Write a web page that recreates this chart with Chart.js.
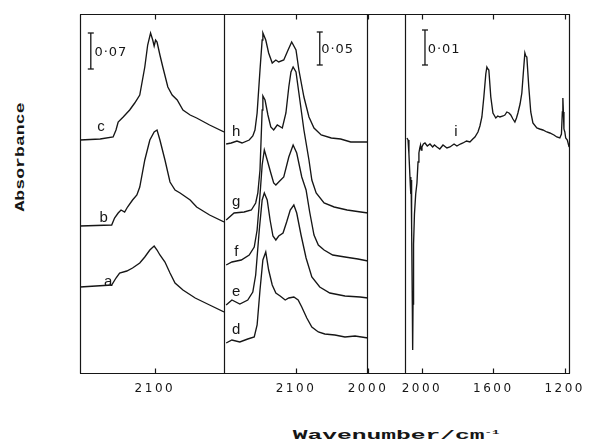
<!DOCTYPE html>
<html>
<head>
<meta charset="utf-8">
<script src="https://cdn.jsdelivr.net/npm/chart.js@4.4.1/dist/chart.umd.min.js"></script>
<style>
  html, body { margin: 0; padding: 0; background: #fff; }
  body { width: 592px; height: 448px; position: relative; overflow: hidden; }
  canvas { position: absolute; top: 0; }
  #frame { position: absolute; left: 80px; top: 14px; width: 490px; height: 358px;
           border-top: 1px solid #161616; border-bottom: 1px solid #161616; }
  .title { position: absolute; white-space: nowrap; color: #161616;
           font: bold 13px "Liberation Mono", monospace; }
  #ytitle { left: 20px; top: 157px; transform: translate(-50%, -50%) rotate(-90deg) scaleX(1.4); }
  #xtitle { left: 396px; top: 436px; font-size: 12px; transform: translate(-50%, -50%) scaleX(2.05); }
  #xtitle sup { font-size: 6px; }
</style>
</head>
<body>
<div id="frame"></div>
<canvas id="p1" width="184" height="410" style="left:60px"></canvas>
<canvas id="p2" width="184" height="410" style="left:204px"></canvas>
<canvas id="p3" width="207" height="410" style="left:385px"></canvas>
<div class="title" id="ytitle">Absorbance</div>
<div class="title" id="xtitle">Wavenumber/cm<sup>-1</sup></div>
<script>
const INK = "#161616";

// tick labels (wavenumber / cm-1)
const ticks1 = [2100];
const ticks2 = [2100, 2000];
const ticks3 = [2000, 1600, 1200];

// spectra: [wavenumber, offset absorbance (arb. units)]
const specA = [[2204,87],[2160,89],[2154,96],[2149,101],[2139,103],[2131,106],[2121,111],[2114,117],[2107,124],[2101,128],[2097,124],[2093,119],[2086,112],[2079,101],[2072,91],[2061,84],[2044,76],[2024,69],[2004,62]];
const specB = [[2204,148],[2160,149],[2156,156],[2151,161],[2147,164],[2142,162],[2138,167],[2131,174],[2125,179],[2121,187],[2114,214],[2107,234],[2101,242],[2097,244],[2093,234],[2086,214],[2079,192],[2072,184],[2065,181],[2051,174],[2042,167],[2024,159],[2004,152]];
const specC = [[2204,234],[2176,235],[2158,237],[2154,244],[2151,252],[2144,257],[2135,264],[2128,271],[2121,279],[2114,307],[2110,329],[2106,341],[2103,334],[2101,328],[2099,334],[2097,332],[2093,319],[2089,307],[2082,287],[2076,279],[2069,274],[2061,264],[2051,259],[2042,256],[2024,249],[2004,242]];

const specD = [[2197,31],[2189,34],[2178,32],[2167,35],[2158,37],[2154,49],[2150,84],[2146,114],[2142,122],[2138,104],[2133,89],[2128,81],[2122,78],[2115,74],[2110,76],[2103,77],[2097,74],[2092,67],[2085,56],[2078,47],[2069,42],[2060,40],[2046,39],[2032,37],[2018,38],[2000,36]];
const specE = [[2197,69],[2189,74],[2178,70],[2167,74],[2160,82],[2156,99],[2151,144],[2147,174],[2144,181],[2140,174],[2136,154],[2132,138],[2128,134],[2124,138],[2118,141],[2113,152],[2108,164],[2103,169],[2099,161],[2093,139],[2086,116],[2078,97],[2067,87],[2053,81],[2032,78],[2011,77],[2000,76]];
const specF = [[2197,109],[2189,112],[2176,114],[2165,119],[2158,127],[2154,144],[2150,179],[2147,209],[2144,224],[2140,214],[2135,201],[2131,191],[2128,189],[2124,192],[2117,197],[2110,217],[2104,229],[2099,221],[2092,197],[2086,184],[2081,162],[2075,139],[2069,129],[2061,124],[2049,119],[2032,117],[2014,115],[2000,113]];
const specG = [[2197,154],[2186,161],[2172,162],[2162,164],[2156,171],[2153,181],[2150,204],[2147,264],[2146,278],[2143,274],[2139,259],[2135,247],[2131,244],[2126,249],[2119,246],[2114,261],[2110,287],[2107,302],[2104,307],[2100,302],[2096,281],[2089,244],[2082,214],[2078,194],[2072,181],[2061,171],[2047,167],[2029,164],[2010,162],[2000,161]];
const specH = [[2197,230],[2190,231],[2182,233],[2175,231],[2165,234],[2160,238],[2157,244],[2154,261],[2150,304],[2147,334],[2146,341],[2142,334],[2138,321],[2133,311],[2128,314],[2124,312],[2117,314],[2111,324],[2106,332],[2100,324],[2096,304],[2089,277],[2082,257],[2075,246],[2065,239],[2051,236],[2038,235],[2024,232],[2010,232],[2000,232]];

const specI = [[2084,236],[2078,234],[2073,220],[2068,200],[2065,188],[2063,197],[2062,180],[2061,194],[2059,176],[2057,150],[2054,70],[2052,24],[2050,70],[2047,130],[2042,160],[2035,180],[2028,191],[2022,212],[2017,221],[2012,226],[2008,229],[2004,224],[2000,227],[1992,230],[1983,231],[1970,228],[1955,230],[1940,227],[1930,229],[1916,227],[1900,225],[1882,229],[1860,226],[1843,227],[1820,230],[1804,228],[1785,230],[1770,231],[1750,233],[1731,232],[1715,235],[1703,237],[1686,242],[1675,248],[1664,257],[1653,277],[1642,300],[1636,307],[1630,305],[1625,304],[1614,277],[1602,261],[1586,256],[1575,258],[1563,257],[1545,258],[1535,259],[1524,262],[1512,261],[1502,259],[1490,255],[1479,252],[1470,256],[1462,261],[1450,270],[1440,281],[1430,305],[1423,321],[1418,318],[1412,317],[1401,287],[1390,262],[1378,251],[1356,246],[1340,245],[1322,244],[1300,242],[1283,241],[1260,239],[1244,237],[1227,236],[1218,240],[1213,262],[1210,276],[1207,262],[1204,245],[1199,242],[1194,236],[1185,234],[1175,227]];

// absorbance scale bars: [wavenumber, bottom, top]
const bar1 = [2189, 305, 341];
const bar2 = [2067, 309, 342];
const bar3 = [1983, 309, 344];

// curve letters: [text, wavenumber, value]
const tags1 = [["c", 2175, 247], ["b", 2171, 156], ["a", 2165, 92]];
const tags2 = [["h", 2183, 242], ["g", 2183, 172], ["f", 2183, 122], ["e", 2183, 82], ["d", 2183, 44]];
const tags3 = [["i", 1810, 242]];

// scale bar captions: [text, wavenumber, value]
const note1 = ["0\u00b707", 2184, 321];
const note2 = ["0\u00b705", 2065, 324];
const note3 = ["0\u00b701", 1968, 324];

function panelPlugin(cfg) {
  return {
    id: "panel",
    beforeDraw(chart) {
      chart.ctx.letterSpacing = "2.5px";
    },
    afterDraw(chart) {
      const { ctx, chartArea: a, scales: { x, y } } = chart;
      ctx.save();
      ctx.letterSpacing = "0px";
      ctx.strokeStyle = INK;
      ctx.lineWidth = 1.2;
      const L = a.left + 0.5, R = a.right - 0.5, T = a.top + 0.5, B = a.bottom - 0.5;
      ctx.beginPath();
      ctx.moveTo(L, T); ctx.lineTo(R, T);
      ctx.moveTo(L, B); ctx.lineTo(R, B);
      ctx.moveTo(L, T); ctx.lineTo(L, B);
      if (cfg.right) { ctx.moveTo(R, T); ctx.lineTo(R, B); }
      x.ticks.forEach((t) => {
        const px = Math.round(x.getPixelForValue(t.value)) + 0.5;
        ctx.moveTo(px, T); ctx.lineTo(px, T + 5);
        ctx.moveTo(px, B); ctx.lineTo(px, B - 5);
      });
      ctx.stroke();

      ctx.fillStyle = INK;
      ctx.textBaseline = "middle";
      ctx.font = '15px "Liberation Sans"';
      ctx.textAlign = "center";
      cfg.tags.forEach(([t, wn, v]) => ctx.fillText(t, x.getPixelForValue(wn), y.getPixelForValue(v)));

      ctx.font = '13px "DejaVu Sans"';
      ctx.letterSpacing = "1px";
      ctx.textAlign = "left";
      const [t, wn, v] = cfg.note;
      ctx.fillText(t, x.getPixelForValue(wn), y.getPixelForValue(v));
      ctx.restore();
    }
  };
}

function buildPanel(id, cfg) {
  const lines = cfg.spectra.map((s) => ({
    data: s.map(([wn, v]) => ({ x: wn, y: v })),
    borderColor: INK,
    borderWidth: 1.35,
    pointRadius: 0,
    tension: 0,
    fill: false
  }));
  const [bx, lo, hi] = cfg.bar;
  lines.push({
    data: [{ x: bx, y: lo }, { x: bx, y: hi }],
    borderColor: INK,
    borderWidth: 1.3,
    pointStyle: "line",
    pointRadius: 3,
    pointBorderColor: INK,
    pointBorderWidth: 1.3,
    fill: false
  });

  new Chart(document.getElementById(id), {
    type: "line",
    data: { datasets: lines },
    options: {
      responsive: false,
      animation: false,
      events: [],
      layout: { padding: { left: 20, right: cfg.padRight, top: 14, bottom: 0 } },
      plugins: { legend: { display: false }, tooltip: { enabled: false } },
      scales: {
        x: {
          type: "linear",
          min: cfg.min,
          max: cfg.max,
          reverse: true,
          grid: { display: false, drawTicks: false },
          border: { display: false },
          ticks: {
            color: INK,
            font: { family: "DejaVu Sans", size: 12 },
            padding: 8,
            maxRotation: 0,
            autoSkip: false,
            callback: (v) => String(v)
          },
          afterBuildTicks: (s) => { s.ticks = cfg.ticks.map((v) => ({ value: v })); },
          afterFit: (s) => { s.height = 36; s.paddingLeft = 0; s.paddingRight = 0; }
        },
        y: { display: false, min: 0, max: 360 }
      }
    },
    plugins: [panelPlugin(cfg)]
  });
}

buildPanel("p1", { spectra: [specA, specB, specC], bar: bar1, tags: tags1, note: note1,
  ticks: ticks1, min: 2004, max: 2204, padRight: 20, right: false });
buildPanel("p2", { spectra: [specD, specE, specF, specG, specH], bar: bar2, tags: tags2, note: note2,
  ticks: ticks2, min: 2000, max: 2200, padRight: 20, right: true });
buildPanel("p3", { spectra: [specI], bar: bar3, tags: tags3, note: note3,
  ticks: ticks3, min: 1170, max: 2095, padRight: 22, right: true });
</script>
</body>
</html>
